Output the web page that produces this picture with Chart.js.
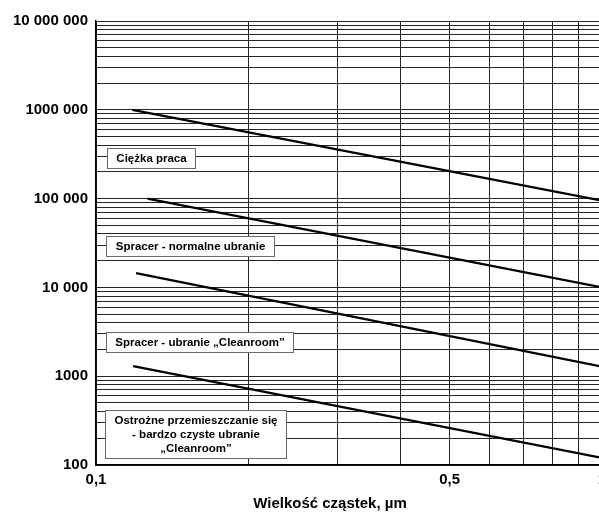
<!DOCTYPE html>
<html>
<head>
<meta charset="utf-8">
<script src="https://cdn.jsdelivr.net/npm/chart.js@4.4.1/dist/chart.umd.min.js"></script>
<style>
  html, body { margin: 0; padding: 0; background: #fff; overflow: hidden; }
  #wrap { width: 599px; height: 512px; overflow: hidden; }
  canvas { display: block; }
</style>
</head>
<body>
<div id="wrap"><canvas id="chart" width="620" height="512"></canvas></div>
<script>
// particle size (µm) -> particles emitted
const heavyWorkX = [0.118, 1.0];
const heavyWorkY = [1000000, 95000];
const walkNormalX = [0.1264, 1.0];
const walkNormalY = [100000, 10000];
const walkCleanX = [0.120, 1.0];
const walkCleanY = [14500, 1280];
const carefulX = [0.1184, 1.0];
const carefulY = [1300, 120];

// box captions
const boxTexts = [
  ['Ciężka praca'],
  ['Spracer - normalne ubranie'],
  ['Spracer - ubranie „Cleanroom”'],
  ['Ostrożne przemieszczanie się', '- bardzo czyste ubranie', '„Cleanroom”']
];

// tick labels
const yMajor = [100, 1000, 10000, 100000, 1000000, 10000000];
const yMajorLabels = ['100', '1000', '10 000', '100 000', '1000 000', '10 000 000'];
const xMajor = [0.1, 0.5, 1];
const xMajorLabels = ['0,1', '0,5', '1'];
const gridSteps = [1, 2, 3, 4, 5, 6, 7, 8, 9];
const xTitle = 'Wielkość cząstek, µm';

const FONT = "'Liberation Sans', Arial, sans-serif";

function toPoints(xs, ys) {
  return xs.map((x, i) => ({ x: x, y: ys[i] }));
}

// 1..9 x every decade between min and max (graph paper lines)
function logGrid(min, max) {
  const out = [];
  for (let d = min; d < max * 0.999; d *= 10) {
    gridSteps.forEach(s => out.push({ value: +(s * d).toPrecision(6) }));
  }
  out.push({ value: max });
  return out;
}

function labelFor(value, majors, labels) {
  const i = majors.findIndex(m => Math.abs(value - m) / m < 1e-6);
  return i >= 0 ? labels[i] : '';
}

// boxes anchored in data space: [left x, centre y]
const boxAnchors = [[0.105, 290000], [0.1046, 29300], [0.1046, 2430], [0.1042, 226]];

const boxPlugin = {
  id: 'captionBoxes',
  afterDatasetsDraw(chart) {
    const { ctx, scales } = chart;
    ctx.save();
    ctx.font = 'bold 11.5px ' + FONT;
    ctx.textAlign = 'center';
    ctx.textBaseline = 'middle';
    const lineH = 14, padX = 9, padY = 3;
    boxTexts.forEach((lines, i) => {
      const left = Math.round(scales.x.getPixelForValue(boxAnchors[i][0])) + 0.5;
      const cy = scales.y.getPixelForValue(boxAnchors[i][1]);
      const w = Math.round(Math.max(...lines.map(t => ctx.measureText(t).width)) + padX * 2);
      const h = lines.length * lineH + padY * 2;
      const top = Math.round(cy - h / 2) + 0.5;
      ctx.fillStyle = '#fff';
      ctx.fillRect(left, top, w, h);
      ctx.strokeStyle = '#6a6a6a';
      ctx.lineWidth = 1;
      ctx.strokeRect(left, top, w, h);
      ctx.fillStyle = '#000';
      lines.forEach((t, k) => {
        ctx.fillText(t, left + w / 2, top + padY + lineH * k + lineH / 2 + 0.5);
      });
    });

    // axis title, centred a little left of the plot middle as on the sheet
    ctx.font = 'bold 15px ' + FONT;
    ctx.textBaseline = 'alphabetic';
    ctx.fillStyle = '#000';
    ctx.fillText(xTitle, scales.x.getPixelForValue(0.29), 508);
    ctx.restore();
  }
};

const mkSet = (name, xs, ys) => ({
  label: name,
  data: toPoints(xs, ys),
  borderColor: '#000',
  borderWidth: 2.2,
  pointRadius: 0,
  fill: false,
  tension: 0
});

new Chart(document.getElementById('chart'), {
  type: 'line',
  data: {
    datasets: [
      mkSet(boxTexts[0].join(' '), heavyWorkX, heavyWorkY),
      mkSet(boxTexts[1].join(' '), walkNormalX, walkNormalY),
      mkSet(boxTexts[2].join(' '), walkCleanX, walkCleanY),
      mkSet(boxTexts[3].join(' '), carefulX, carefulY)
    ]
  },
  options: {
    responsive: false,
    animation: false,
    layout: { padding: { left: 0, right: 18, top: 21, bottom: 0 } },
    plugins: {
      legend: { display: false },
      tooltip: { enabled: false }
    },
    scales: {
      x: {
        type: 'logarithmic',
        min: 0.1,
        max: 1,
        afterBuildTicks: (scale) => { scale.ticks = logGrid(0.1, 1); },
        afterFit: (scale) => { scale.height = 47; },
        ticks: {
          autoSkip: false,
          maxRotation: 0,
          padding: 6,
          color: '#000',
          font: { family: FONT, size: 15, weight: 'bold' },
          callback: (v) => labelFor(v, xMajor, xMajorLabels)
        },
        grid: { color: '#262626', lineWidth: 1, drawTicks: false },
        border: { display: true, color: '#000', width: 1.5 }
      },
      y: {
        type: 'logarithmic',
        min: 100,
        max: 10000000,
        afterBuildTicks: (scale) => { scale.ticks = logGrid(100, 10000000); },
        afterFit: (scale) => { scale.width = 96; },
        ticks: {
          autoSkip: false,
          padding: 8,
          color: '#000',
          font: { family: FONT, size: 15, weight: 'bold' },
          callback: (v) => labelFor(v, yMajor, yMajorLabels)
        },
        grid: { color: '#262626', lineWidth: 1, drawTicks: false },
        border: { display: true, color: '#000', width: 1.5 }
      }
    }
  },
  plugins: [boxPlugin]
});
</script>
</body>
</html>
